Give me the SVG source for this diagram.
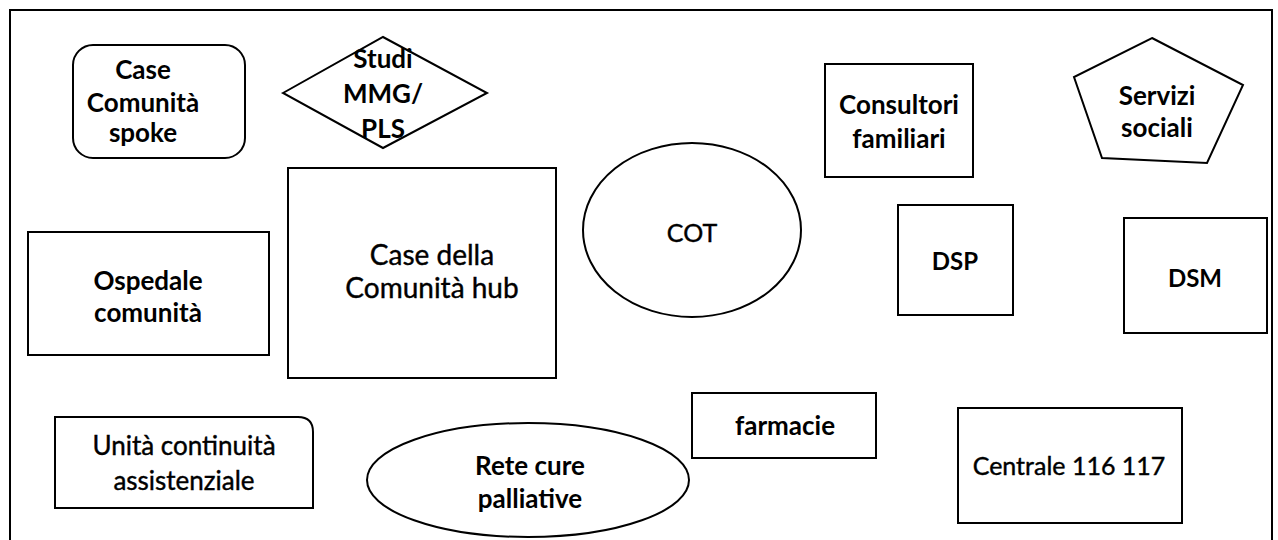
<svg xmlns="http://www.w3.org/2000/svg" width="1278" height="540" viewBox="0 0 1278 540">
<style>
.s{fill:#fff;stroke:#000;stroke-width:2}
text{font-family:Lato,"Open Sans","Liberation Sans",sans-serif;fill:#000;text-anchor:middle}
.b{font-weight:bold;font-size:26px}
.r{font-weight:normal;font-size:26px;stroke:#000;stroke-width:0.4}
</style>
<rect x="0" y="0" width="1278" height="540" fill="#fff"/>
<path d="M10,545 V10 H1272 V545" fill="none" stroke="#000" stroke-width="2"/>
<g id="connectors"></g>
<g id="case-spoke"><rect class="s" x="73" y="45" width="172" height="113" rx="20"/>
<text class="b" x="143" y="79">Case</text><text class="b" x="143" y="112">Comunità</text><text class="b" x="143" y="142">spoke</text></g>
<g id="studi"><polygon class="s" points="283,93 383,37 487,93 383,148"/>
<text class="b" x="383" y="68">Studi</text><text class="b" x="383" y="103">MMG/</text><text class="b" x="383" y="138">PLS</text></g>
<g id="consultori"><rect class="s" x="825" y="64" width="148" height="113"/>
<text class="b" x="899" y="114">Consultori</text><text class="b" x="899" y="148">familiari</text></g>
<g id="servizi"><polygon class="s" points="1152,38 1243,85 1207,163 1102,158 1074,77"/>
<text class="b" x="1157" y="105">Servizi</text><text class="b" x="1157" y="137">sociali</text></g>
<g id="hub"><rect class="s" x="288" y="168" width="268" height="210"/>
<text class="r" x="432" y="265" style="font-size:28px">Case della</text><text class="r" x="432" y="298" style="font-size:28px">Comunità hub</text></g>
<g id="ospedale"><rect class="s" x="28" y="232" width="241" height="123"/>
<text class="b" x="148" y="290">Ospedale</text><text class="b" x="148" y="322">comunità</text></g>
<g id="cot"><ellipse class="s" cx="692" cy="230" rx="109" ry="87"/>
<text class="r" x="692" y="242" style="font-size:25px">COT</text></g>
<g id="dsp"><rect class="s" x="898" y="205" width="115" height="110"/>
<text class="b" x="955" y="270" style="font-size:24px">DSP</text></g>
<g id="dsm"><rect class="s" x="1124" y="218" width="143" height="115"/>
<text class="b" x="1195" y="287" style="font-size:24px">DSM</text></g>
<g id="unita"><path class="s" d="M55,417 H298 Q313,417 313,432 V508 H55 Z"/>
<text class="r" x="184" y="455">Unità continuità</text><text class="r" x="184" y="490">assistenziale</text></g>
<g id="rete"><ellipse class="s" cx="528" cy="480" rx="161" ry="57"/>
<text class="b" x="530" y="475">Rete cure</text><text class="b" x="530" y="508">palliative</text></g>
<g id="farmacie"><rect class="s" x="692" y="393" width="184" height="65"/>
<text class="b" x="785" y="435">farmacie</text></g>
<g id="centrale"><rect class="s" x="958" y="408" width="224" height="115"/>
<text class="r" x="1069" y="475" style="font-size:25px">Centrale 116 117</text></g>
</svg>
